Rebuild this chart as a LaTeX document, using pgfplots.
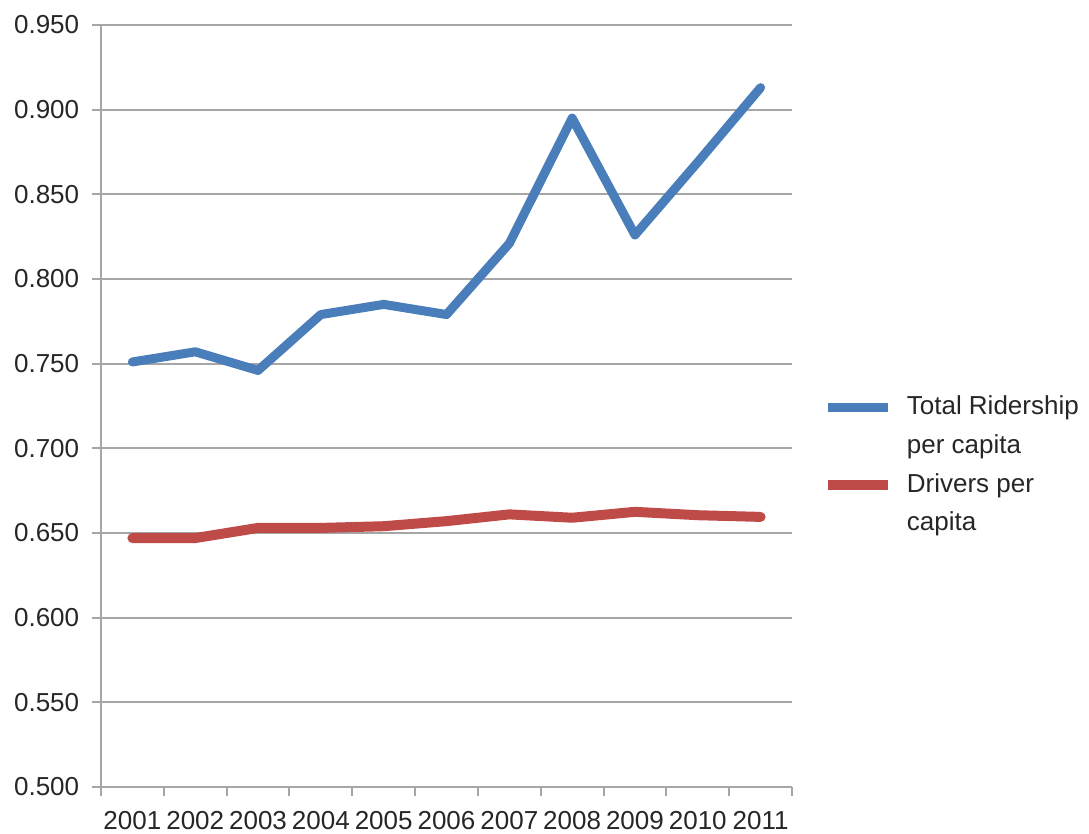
\documentclass[border=0pt]{standalone}
\usepackage{pgfplots}
\pgfplotsset{compat=1.18}
\usepackage{fontspec}
\setmainfont{Liberation Sans}
\definecolor{ridblue}{HTML}{4A7EBB}
\definecolor{drvred}{HTML}{BE4B48}
\definecolor{gridgray}{HTML}{A6A6A6}
\definecolor{txt}{HTML}{262626}
\begin{document}
\fontsize{26}{33}\selectfont
\begin{tikzpicture}
\begin{axis}[
  name=ax,
  scale only axis,
  width=691pt, height=762pt,
  xmin=0.5, xmax=11.5,
  ymin=0.5, ymax=0.95,
  axis lines*=left,
  axis line style={gridgray, line width=2pt},
  xtick={1,...,11},
  xticklabels={2001,2002,2003,2004,2005,2006,2007,2008,2009,2010,2011},
  minor xtick={0.5,1.5,...,11.5},
  major x tick style={draw=none},
  minor x tick style={gridgray, line width=2pt},
  minor tick length=9pt,
  major tick length=9pt,
  tick align=outside,
  ytick={0.5,0.55,...,0.951},
  y tick style={gridgray, line width=2pt},
  ymajorgrids,
  major grid style={gridgray, line width=2pt},
  yticklabel style={/pgf/number format/.cd, fixed, fixed zerofill, precision=3, /tikz/.cd, text=txt, xshift=-4pt},
  xticklabel style={text=txt, yshift=-6pt},
  /pgf/number format/assume math mode=true,
  legend style={at={(1.04,0.519)}, anchor=north west, draw=none, fill=none,
    font=\fontsize{26}{33}\selectfont, text=txt, row sep=12pt,
    nodes={inner sep=2pt},
    /tikz/every odd column/.append style={column sep=12pt}},
  legend cell align=left,
  legend image code/.code={\draw[#1, line cap=butt] (0pt,0pt) -- (60pt,0pt);},
  clip=false,
]
\addplot[ridblue, line width=9pt, line join=round, line cap=round] coordinates {
(1,0.751) (2,0.757) (3,0.746) (4,0.779) (5,0.785) (6,0.779)
(7,0.821) (8,0.895) (9,0.826) (10,0.869) (11,0.913)};
\addlegendentry{Total Ridership}
\addlegendimage{empty legend}
\addlegendentry{per capita}
\addplot[drvred, line width=10pt, line join=round, line cap=round] coordinates {
(1,0.647) (2,0.647) (3,0.653) (4,0.653) (5,0.654) (6,0.657)
(7,0.661) (8,0.659) (9,0.6625) (10,0.6605) (11,0.6595)};
\addlegendentry{Drivers per}
\addlegendimage{empty legend}
\addlegendentry{capita}
\end{axis}
\pgfresetboundingbox
\useasboundingbox (ax.south west) ++(-101pt,-47pt) rectangle ++(1089pt,834pt);
\end{tikzpicture}
\end{document}
